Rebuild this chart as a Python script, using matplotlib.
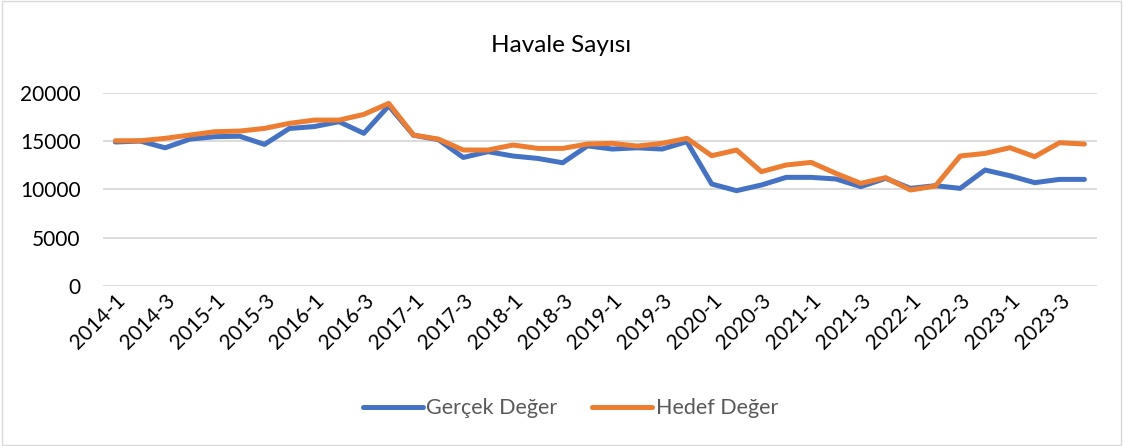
import matplotlib
matplotlib.use('Agg')
import matplotlib.pyplot as plt
from matplotlib.patches import Rectangle

# quarterly periods 2014-1 .. 2023-4
periods = [f"{y}-{q}" for y in range(2014, 2024) for q in range(1, 5)]

gercek = [14900, 15000, 14300, 15200, 15450, 15500, 14650, 16300, 16500, 17000,
          15800, 18650, 15600, 15150, 13300, 13900, 13450, 13200, 12750, 14500,
          14170, 14300, 14170, 14930, 10550, 9860, 10450, 11240, 11240, 11070,
          10280, 11140, 10100, 10380, 10100, 12000, 11410, 10690, 11030, 11030]

hedef = [15030, 15030, 15280, 15620, 15970, 16030, 16310, 16830, 17170, 17170,
         17760, 18900, 15620, 15200, 14070, 14070, 14590, 14240, 14240, 14690,
         14760, 14480, 14760, 15280, 13480, 14070, 11830, 12520, 12790, 11650,
         10620, 11210, 9930, 10340, 13450, 13720, 14310, 13380, 14830, 14690]

plt.rcParams['font.family'] = ['Lato', 'DejaVu Sans']

fig = plt.figure(figsize=(11.23, 4.46), dpi=100)
ax = fig.add_axes([0.0917, 0.359, 0.885, 0.433])

x = list(range(len(periods)))
ax.plot(x, gercek, color='#4472C4', lw=3.6, solid_capstyle='round', label='Gerçek Değer')
ax.plot(x, hedef, color='#ED7D31', lw=3.6, solid_capstyle='round', label='Hedef Değer')

ax.set_xlim(-0.5, len(periods) - 0.5)
ax.set_ylim(0, 20000)
ax.set_yticks(range(0, 20001, 5000))
ax.yaxis.grid(True, color='#D9D9D9', lw=1.3)
ax.set_axisbelow(True)
for s in ax.spines.values():
    s.set_visible(False)
ax.tick_params(length=0, labelsize=15, colors='black')
ax.tick_params(axis='y', pad=16)
ax.tick_params(axis='x', pad=3)
ax.set_xticks(x[::2])
ax.set_xticklabels(periods[::2], rotation=45, ha='right', va='top', rotation_mode='anchor')

fig.text(0.5, 0.899, 'Havale Sayısı', ha='center', va='center', fontsize=17.5, color='black')
fig.legend(loc='center', bbox_to_anchor=(0.508, 0.085), ncol=2, frameon=False,
           fontsize=15.5, labelcolor='#595959', handlelength=2.8, handletextpad=0.15,
           columnspacing=1.6)

fig.patches.append(Rectangle((0.002, 0.003), 0.996, 0.994, transform=fig.transFigure,
                             fill=False, edgecolor='#D9D9D9', lw=1))

fig.savefig('out.png', dpi=100)
